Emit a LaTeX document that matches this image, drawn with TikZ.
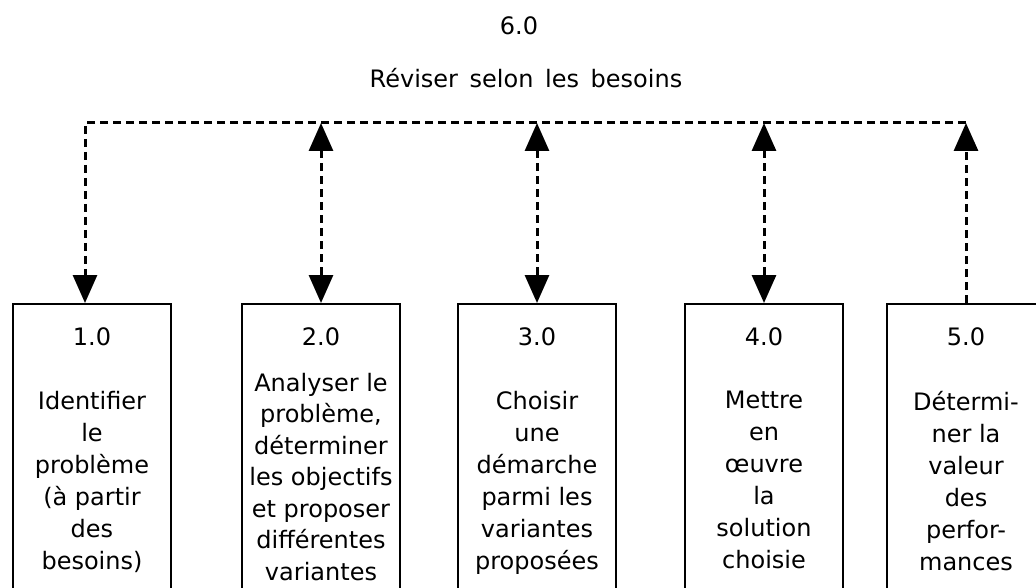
\documentclass[tikz,border=0pt]{standalone}
\usepackage{fontspec}
\setmainfont{DejaVu Sans}
\usetikzlibrary{arrows.meta,positioning}
\tikzset{
  box/.style={draw, rectangle, line width=2pt, minimum width=158pt, minimum height=320pt, anchor=north, inner sep=0pt},
  num/.style={anchor=base, inner sep=0pt, font=\fontsize{24}{32}\selectfont},
  txt/.style={anchor=north, align=center, inner sep=0pt, font=\fontsize{24}{32}\selectfont},
  dline/.style={line width=3pt, dash pattern=on 8pt off 5pt},
}

\begin{document}
\begin{tikzpicture}[x=1pt,y=-1pt,>={Triangle[length=28pt,width=24pt]}]
\useasboundingbox (0,0) rectangle (1036,588);
\clip (0,0) rectangle (1036,588);
\node[num] (n6) at (519,35) {6.0};
\node[num] (d6) at (526,88) {Réviser\, selon\, les\, besoins};
\node[box] (b1) at (92,303) {};
\node[num] (n1) at (92,345) {1.0};
\node[txt] (d1) at (92,391) {Identifier\\le\\problème\\(à partir\\des\\besoins)};
\node[box] (b2) at (321,303) {};
\node[num] (n2) at (321,345) {2.0};
\node[txt, font=\fontsize{24}{31.5}\selectfont] (d2) at (321,373) {Analyser le\\problème,\\déterminer\\les objectifs\\et proposer\\différentes\\variantes};
\node[box] (b3) at (537,303) {};
\node[num] (n3) at (537,345) {3.0};
\node[txt] (d3) at (537,391) {Choisir\\une\\démarche\\parmi les\\variantes\\proposées};
\node[box] (b4) at (764,303) {};
\node[num] (n4) at (764,345) {4.0};
\node[txt] (d4) at (764,391) {Mettre\\en\\œuvre\\la\\solution\\choisie};
\node[box] (b5) at (966,303) {};
\node[num] (n5) at (966,345) {5.0};
\node[txt] (d5) at (966,391) {Détermi-\\ner la\\valeur\\des\\perfor-\\mances};
\coordinate (tl) at (85,123);
\coordinate (tr) at (b5.north |- tl);
\draw[dline,->] (tr) -- (tl) -- (tl |- b1.north);
\draw[dline,<->] (b2.north |- tl) -- (b2.north);
\draw[dline,<->] (b3.north |- tl) -- (b3.north);
\draw[dline,<->] (b4.north |- tl) -- (b4.north);
\draw[dline,->] (b5.north) -- (tr);
\end{tikzpicture}
\end{document}
